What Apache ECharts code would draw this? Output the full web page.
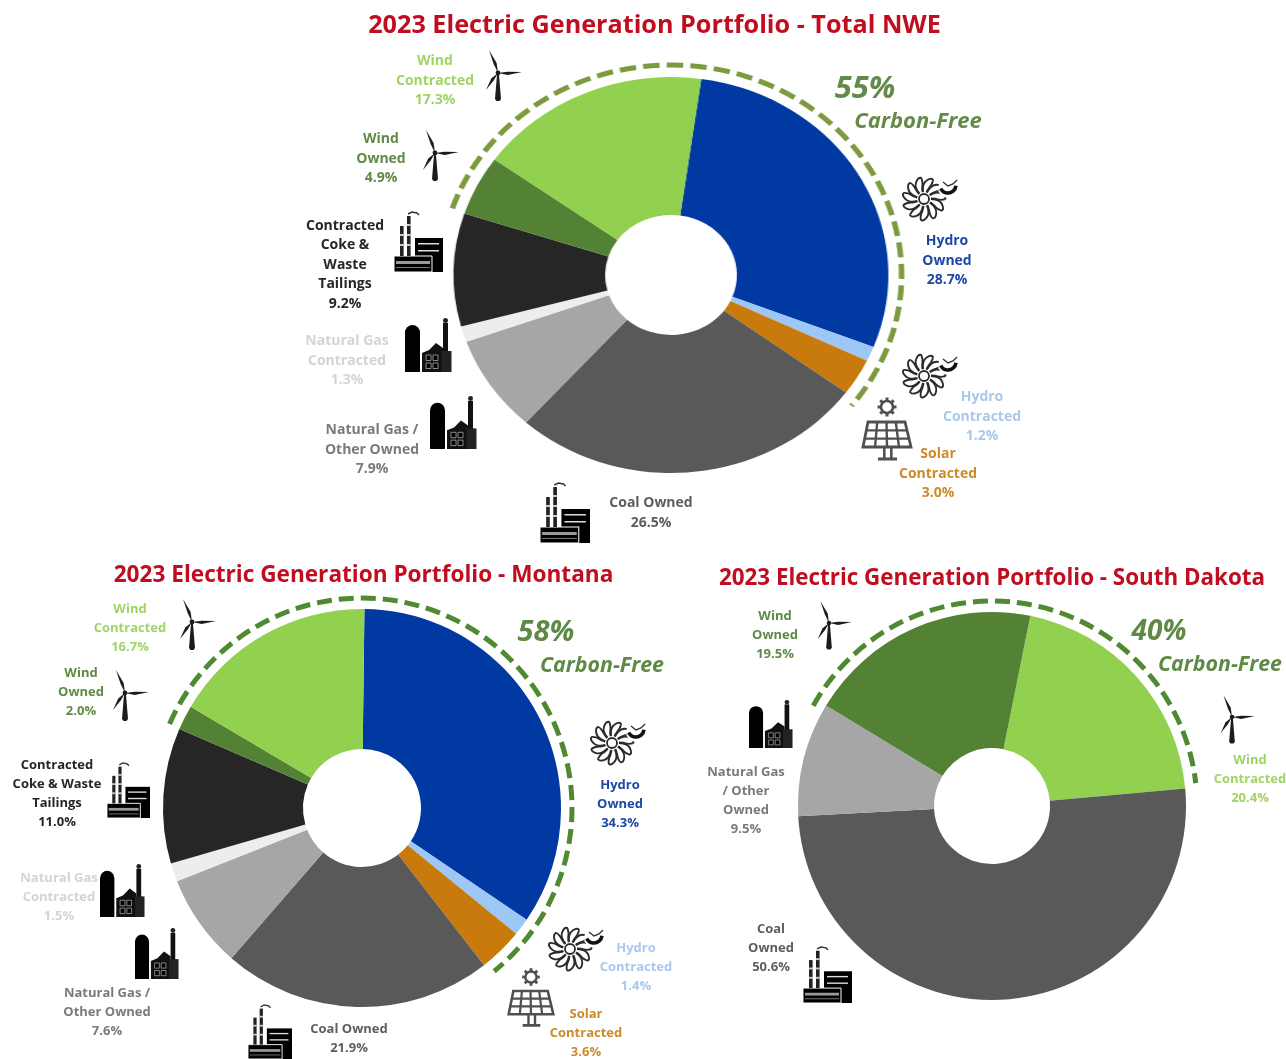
<!DOCTYPE html>
<html>
<head>
<meta charset="utf-8">
<style>
html,body{margin:0;padding:0;background:#fff;width:1286px;height:1059px;overflow:hidden}
#nwe{position:absolute;left:440.5px;top:45px;width:460px;height:460px;transform:scaleX(1.098);transform-origin:230px 230px;filter:blur(.35px)}
#main{position:absolute;left:0;top:0;width:1286px;height:1059px;filter:blur(.35px)}
</style>
<script src="https://cdn.jsdelivr.net/npm/echarts@6/dist/echarts.min.js"></script>
</head>
<body>
<div id="nwe"></div>
<div id="main"></div>
<script>
// ---- Data ----
const titleNWE = '2023 Electric Generation Portfolio - Total NWE';
const titleMT = '2023 Electric Generation Portfolio - Montana';
const titleSD = '2023 Electric Generation Portfolio - South Dakota';

const categoriesFull = ['Hydro Owned','Hydro Contracted','Solar Contracted','Coal Owned','Natural Gas / Other Owned','Natural Gas Contracted','Contracted Coke & Waste Tailings','Wind Owned','Wind Contracted'];
const valuesNWE = [28.7,1.2,3.0,26.5,7.9,1.3,9.2,4.9,17.3];
const valuesMT  = [34.3,1.4,3.6,21.9,7.6,1.5,11.0,2.0,16.7];
const coloursFull = ['#0039A2','#9DC8F5','#C87B0C','#595959','#A6A6A6','#EDEDED','#262626','#548235','#92D050'];

const categoriesSD = ['Wind Contracted','Coal Owned','Natural Gas / Other Owned','Wind Owned'];
const valuesSD = [20.4,50.6,9.5,19.5];
const coloursSD = ['#92D050','#595959','#A6A6A6','#548235'];

const carbonNWE = '55%', carbonMT = '58%', carbonSD = '40%';
const carbonLabel = 'Carbon-Free';

const linesNWE = ['Hydro\nOwned','Hydro\nContracted','Solar\nContracted','Coal Owned','Natural Gas /\nOther Owned','Natural Gas\nContracted','Contracted\nCoke &\nWaste\nTailings','Wind\nOwned','Wind\nContracted'];
const linesMT  = ['Hydro\nOwned','Hydro\nContracted','Solar\nContracted','Coal Owned','Natural Gas /\nOther Owned','Natural Gas\nContracted','Contracted\nCoke & Waste\nTailings','Wind\nOwned','Wind\nContracted'];
const linesSD  = ['Wind\nContracted','Coal\nOwned','Natural Gas\n/ Other\nOwned','Wind\nOwned'];
const labelColoursFull = ['#1F47A8','#A9C8EC','#CC8A2A','#5E5E5E','#7A7A7A','#D4D4D4','#262626','#5F8A45','#A0D464'];
const labelColoursSD = ['#A0D464','#5E5E5E','#7A7A7A','#5F8A45'];

// ---- Layout (separate from data) ----
const posNWE = [[947,261],[982,417],[938,474],[651,513],[372,450],[347,361],[345,265],[381,159],[435,81]];
const posMT  = [[620,804],[636,967],[586,1033],[349,1039],[107,1012],[59,897],[57,794],[81,692],[130,628]];
const posSD  = [[1250,779],[771,948],[746,801],[775,635]];

const FONT = '"Open Sans"';
const INK = '#1c1c1c';

function pie(center, radius, startAngle, names, values, colours) {
  return {
    type:'pie', center, radius, startAngle, clockwise:true, silent:true, animation:false,
    label:{show:false}, labelLine:{show:false},
    emphasis:{disabled:true},
    data:names.map((n,i)=>({name:n,value:values[i],itemStyle:{color:colours[i]}}))
  };
}
function dashedArc(cx,cy,r,fromDeg,toDeg,color,dash){
  const rad=d=>(d-90)*Math.PI/180;
  return {type:'arc',silent:true,shape:{cx,cy,r,startAngle:rad(fromDeg),endAngle:rad(toDeg),clockwise:true},
    style:{stroke:color,lineWidth:5,lineDash:dash,fill:null,lineCap:'butt'},z:5};
}
function labels(lines,values,pos,colours,size,lh){
  return lines.map((l,i)=>({type:'text',x:pos[i][0],y:pos[i][1],silent:true,z:10,
    style:{text:l+'\n'+values[i].toFixed(1)+'%',fill:colours[i],font:'bold '+size+'px '+FONT,
      align:'center',verticalAlign:'middle',lineHeight:lh}}));
}
function carbon(t,x1,y1,x2,y2,color,s1,s2){
  return [
    {type:'text',x:x1,y:y1,silent:true,z:10,style:{text:t,fill:color,font:'italic bold '+s1+'px '+FONT,align:'center',verticalAlign:'middle'}},
    {type:'text',x:x2,y:y2,silent:true,z:10,style:{text:carbonLabel,fill:color,font:'italic bold '+s2+'px '+FONT,align:'center',verticalAlign:'middle'}}
  ];
}
// ---- Icons ----
function blade(tx,ty){
  const len=Math.hypot(tx,ty),nx=-ty/len,ny=tx/len;
  return {type:'polygon',shape:{points:[[0,0],[tx*.4+nx*2.4,ty*.4+ny*2.4],[tx,ty],[tx*.4-nx*.8,ty*.4-ny*.8]]},style:{fill:INK}};
}
function turbine(x,y,s){
  return {type:'group',x,y,scaleX:s,scaleY:s,silent:true,children:[
    blade(-9,-23),blade(24,-1),blade(-12,17),
    {type:'polygon',shape:{points:[[-1,2],[1,2],[3,26],[1.5,28],[-1.5,28],[-3,26]]},style:{fill:INK}},
    {type:'circle',shape:{cx:0,cy:0,r:2.4},style:{fill:INK}}
  ]};
}
function factory(x,y,w,h){
  const c=[
    {type:'rect',shape:{x:21,y:26,width:28,height:34},style:{fill:'#000'}},
    {type:'rect',shape:{x:0,y:44,width:38,height:16},style:{fill:'#000',stroke:'#fff',lineWidth:1}},
    {type:'rect',shape:{x:24,y:31,width:21,height:1.5},style:{fill:'#ddd'}},
    {type:'rect',shape:{x:24,y:38,width:21,height:1.5},style:{fill:'#ddd'}},
    {type:'rect',shape:{x:2,y:49,width:34,height:3},style:{fill:'#999'}},
    {type:'rect',shape:{x:2,y:55,width:34,height:1},style:{fill:'#777'}},
    {type:'polyline',shape:{points:[[14,2],[18,0],[23,1],[25,3]]},style:{stroke:'#333',lineWidth:1.5,fill:null}}
  ];
  [[6,14],[13,4]].forEach(p=>{
    c.push({type:'rect',shape:{x:p[0],y:p[1],width:3.6,height:44-p[1]},style:{fill:'#222'}});
    for(let yy=p[1]+8;yy<40;yy+=10) c.push({type:'rect',shape:{x:p[0]-.2,y:yy,width:4,height:2},style:{fill:'#ccc'}});
  });
  return {type:'group',x,y,scaleX:w/49,scaleY:h/60,silent:true,children:c};
}
function gasPlant(x,y,w,h){
  const c=[
    {type:'rect',shape:{x:0,y:8,width:15,height:47,r:[7.5,7.5,0,0]},style:{fill:'#000'}},
    {type:'polygon',shape:{points:[[17,55],[17,36],[24,33],[31,26],[38,31],[38,55]]},style:{fill:'#111'}},
    {type:'rect',shape:{x:38,y:6,width:5,height:49},style:{fill:'#111'}},
    {type:'rect',shape:{x:36.5,y:34,width:10,height:21},style:{fill:'#222'}},
    {type:'circle',shape:{cx:40.5,cy:3.5,r:2.5},style:{fill:'#222'}}
  ];
  [[21,38],[28,38],[21,46],[28,46]].forEach(p=>c.push({type:'rect',shape:{x:p[0],y:p[1],width:5,height:5.5},style:{fill:'#000',stroke:'#aaa',lineWidth:.8}}));
  return {type:'group',x,y,scaleX:w/47,scaleY:h/55,silent:true,children:c};
}
function hydro(x,y,s){
  const c=[];
  const N=11;
  for(let i=0;i<N;i++){
    const t=i*2*Math.PI/N;
    const pt=(r,a)=>[r*Math.cos(t+a),r*Math.sin(t+a)];
    c.push({type:'polyline',shape:{smooth:.4,points:[pt(7,0),pt(14,.1),pt(19,.3),pt(21.5,.55),pt(17,.62),pt(11,.55),pt(7,.5)]},style:{stroke:'#2b2b2b',lineWidth:1.9,fill:null}});
  }
  c.push({type:'circle',shape:{cx:0,cy:0,r:5},style:{fill:'#fff',stroke:'#2b2b2b',lineWidth:1.8}});
  c.push({type:'circle',shape:{cx:24,cy:-11,r:10},style:{fill:'#fff'}});
  c.push({type:'arc',shape:{cx:24,cy:-14,r:8,startAngle:.1,endAngle:2.7,clockwise:true},style:{stroke:'#111',lineWidth:3.6,fill:null}});
  c.push({type:'polyline',shape:{points:[[19,-17],[24,-13],[29,-15],[33,-19]]},style:{stroke:'#333',lineWidth:1.4,fill:null}});
  return {type:'group',x,y,scaleX:s,scaleY:s,silent:true,children:c};
}
function solar(x,y,s){
  const G='#505050';
  const c=[];
  for(let i=0;i<8;i++){
    const a=i*Math.PI/4;
    c.push({type:'line',shape:{x1:6*Math.cos(a),y1:6*Math.sin(a),x2:9.5*Math.cos(a),y2:9.5*Math.sin(a)},style:{stroke:G,lineWidth:3}});
  }
  c.push({type:'circle',shape:{cx:0,cy:0,r:6},style:{fill:'#fff',stroke:G,lineWidth:2.6}});
  const TL=[-19,15],TR=[18,15],BL=[-24,40],BR=[24,40];
  c.push({type:'polygon',shape:{points:[TL,TR,BR,BL]},style:{fill:'#fff',stroke:G,lineWidth:2.8}});
  for(let k=1;k<3;k++){
    const f=k/3;
    c.push({type:'line',shape:{x1:TL[0]+(BL[0]-TL[0])*f,y1:15+25*f,x2:TR[0]+(BR[0]-TR[0])*f,y2:15+25*f},style:{stroke:G,lineWidth:2.4}});
  }
  for(let k=1;k<4;k++){
    const f=k/4;
    c.push({type:'line',shape:{x1:TL[0]+37*f,y1:15,x2:BL[0]+48*f,y2:40},style:{stroke:G,lineWidth:2.4}});
  }
  c.push({type:'rect',shape:{x:-4,y:40,width:2.6,height:12},style:{fill:G}});
  c.push({type:'rect',shape:{x:3,y:40,width:2.6,height:12},style:{fill:G}});
  c.push({type:'rect',shape:{x:-9,y:50.5,width:19,height:3},style:{fill:G}});
  return {type:'group',x,y,scaleX:s,scaleY:s,silent:true,children:c};
}

// ---- Top chart: stretched horizontally by the page, as in the reference ----
const nwe = echarts.init(document.getElementById('nwe'),null,{renderer:'canvas'});
nwe.setOption({
  animation:false,
  backgroundColor:'transparent',
  series:[pie([230,230],[60,198],82,categoriesFull,valuesNWE,coloursFull)],
  graphic:[dashedArc(230,230,210,-71.5,128.5,'#7C9A3E',[15,6.5])]
});

// ---- Main layer ----
const titleStyle = s => ({fontFamily:FONT,fontWeight:'bold',fontSize:s,color:'#C00D20'});
const main = echarts.init(document.getElementById('main'),null,{renderer:'canvas'});
const graphics = [
  dashedArc(362,808,210,-66.4,141,'#4F8A33',[15,7]),
  dashedArc(992,806,205,-60.7,83.6,'#4F8A33',[15,7]),
  ...labels(linesNWE,valuesNWE,posNWE,labelColoursFull,14,19.5),
  ...labels(linesMT,valuesMT,posMT,labelColoursFull,13,19),
  ...labels(linesSD,valuesSD,posSD,labelColoursSD,13,19),
  ...carbon(carbonNWE,865,89,918,122,'#648A4A',31,22),
  ...carbon(carbonMT,546,633,602,666,'#5E8A45',29,21.4),
  ...carbon(carbonSD,1159,632,1220,665,'#5E8A45',28,21.4),
  turbine(498,73,1), turbine(435,153,1),
  turbine(192,622,1), turbine(125,693,1),
  turbine(829,623,.95), turbine(1232,717,.95),
  factory(394,212,49,60), factory(540,483,50,60),
  factory(107,763,43,55), factory(248,1005,44,54), factory(803,947,49,56),
  gasPlant(405,317,47,55), gasPlant(430,395,47,54),
  gasPlant(100,863,45,54), gasPlant(135,927,44,52), gasPlant(749,699,44,49),
  hydro(924,199,1), hydro(924,376,1), hydro(612,743,1), hydro(570,949,1),
  solar(887,407,1), solar(531,977,.93)
];
main.setOption({
  animation:false,
  backgroundColor:'transparent',
  title:[
    {text:titleNWE,left:654.5,top:26,padding:0,textAlign:'center',textVerticalAlign:'middle',textStyle:titleStyle(25.2)},
    {text:titleMT,left:363.5,top:576,padding:0,textAlign:'center',textVerticalAlign:'middle',textStyle:titleStyle(22.6)},
    {text:titleSD,left:992,top:579,padding:0,textAlign:'center',textVerticalAlign:'middle',textStyle:titleStyle(22.4)}
  ],
  series:[
    pie([362,808],[59,199],89.3,categoriesFull,valuesMT,coloursFull),
    pie([992,806],[58,194],78.6,categoriesSD,valuesSD,coloursSD)
  ],
  graphic:graphics
});
</script>
</body>
</html>
